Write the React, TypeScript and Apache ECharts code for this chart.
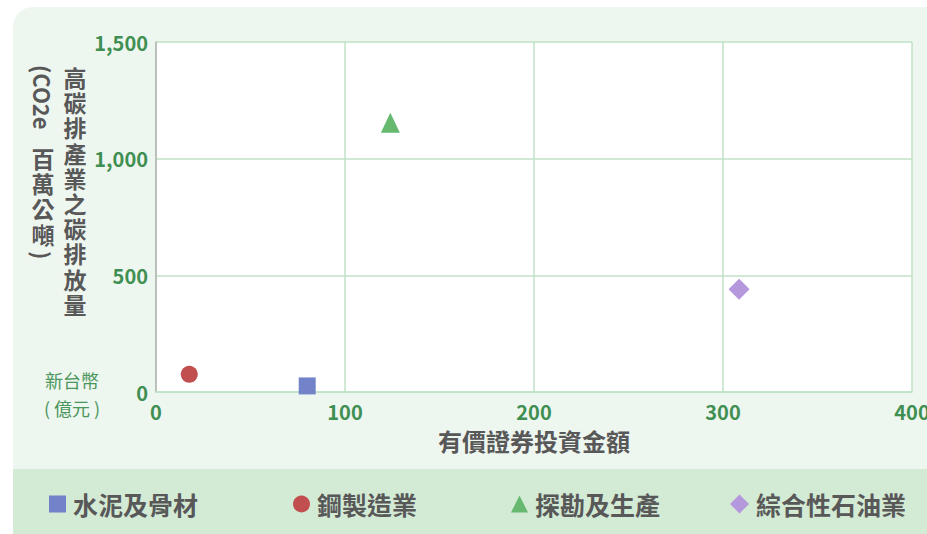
import React, { useEffect, useRef } from "react";
import * as echarts from "echarts";

const seriesNames = ["水泥及骨材", "鋼製造業", "探勘及生產", "綜合性石油業"];
const investX = [80, 17.6, 124, 308.5];
const emissionY = [26, 76, 1154, 440];
const symbols = ["rect", "circle", "triangle", "diamond"];
const colors = ["#7383c9", "#c24f4f", "#66b96f", "#b597de"];
const xAxisTitle = "有價證券投資金額";
const yAxisTitle = "高碳排產業之碳排放量";
const yUnitLatin = "(CO2e";
const yUnitCjk = "百萬公噸";
const currencyNote = ["新台幣", "( 億元 )"];

const FONT = "'Noto Sans CJK TC', 'Noto Sans', sans-serif";
const GREEN = "#3f8f52";
const GRAY = "#585858";
const GRID_LINE = "#bfe2c6";

function stackedChars(text: string, x: number, y0: number, pitch: number) {
  return text.split("").map((ch, i) => ({
    type: "text",
    x,
    y: y0 + i * pitch,
    style: {
      text: ch,
      font: `bold 23px ${FONT}`,
      fill: GRAY,
      textAlign: "center",
      textVerticalAlign: "middle",
    },
  }));
}

export default function App() {
  const ref = useRef<HTMLDivElement>(null);
  useEffect(() => {
    if (!ref.current) return;
    const chart = echarts.init(ref.current, undefined, { renderer: "svg" });
    const symbolSizes: any[] = [17, 17, [19, 20], [21, 21]];
    const legendLeft = [49, 293, 511, 730];
    const option: any = {
      animation: false,
      textStyle: { fontFamily: FONT },
      graphic: [
        {
          type: "rect",
          z: -10,
          shape: { x: 13, y: 7, width: 940, height: 540, r: [20, 0, 0, 0] },
          style: { fill: "#eef6f0" },
        },
        {
          type: "rect",
          z: -9,
          shape: { x: 13, y: 469, width: 940, height: 70 },
          style: { fill: "#d3ead5" },
        },
        ...stackedChars(yAxisTitle, 75, 77, 25.2),
        {
          type: "text",
          x: 43,
          y: 65,
          rotation: -Math.PI / 2,
          style: {
            text: yUnitLatin,
            font: `bold 22px ${FONT}`,
            fill: GRAY,
            textAlign: "left",
            textVerticalAlign: "middle",
          },
        },
        ...stackedChars(yUnitCjk, 43, 158, 25.2),
        {
          type: "text",
          x: 43,
          y: 251,
          rotation: -Math.PI / 2,
          style: {
            text: ")",
            font: `bold 22px ${FONT}`,
            fill: GRAY,
            textAlign: "left",
            textVerticalAlign: "middle",
          },
        },
        {
          type: "text",
          x: 72,
          y: 380,
          style: {
            text: currencyNote[0],
            font: `18px ${FONT}`,
            fill: "#4a965c",
            textAlign: "center",
            textVerticalAlign: "middle",
          },
        },
        {
          type: "text",
          x: 72,
          y: 408,
          style: {
            text: currencyNote[1],
            font: `18px ${FONT}`,
            fill: "#4a965c",
            textAlign: "center",
            textVerticalAlign: "middle",
          },
        },
      ],
      grid: {
        left: 156,
        top: 42,
        right: 15,
        bottom: 142,
        show: true,
        backgroundColor: "#ffffff",
        borderWidth: 0,
        outerBoundsMode: "none",
        containLabel: false,
      },
      xAxis: {
        type: "value",
        min: 0,
        max: 400,
        interval: 100,
        name: xAxisTitle,
        nameLocation: "middle",
        nameGap: 36,
        nameTextStyle: { color: GRAY, fontSize: 24, fontWeight: "bold", fontFamily: FONT },
        axisLine: { show: true, lineStyle: { color: GRID_LINE, width: 1.5 } },
        axisTick: { show: false },
        axisLabel: { color: GREEN, fontSize: 20, fontWeight: "bold", margin: 9, fontFamily: FONT },
        splitLine: { show: true, lineStyle: { color: GRID_LINE, width: 1.5 } },
      },
      yAxis: {
        type: "value",
        min: 0,
        max: 1500,
        interval: 500,
        axisLine: { show: true, lineStyle: { color: "#b4b4b4", width: 1.5 } },
        axisTick: { show: false },
        axisLabel: { color: GREEN, fontSize: 20, fontWeight: "bold", margin: 8, fontFamily: FONT },
        splitLine: { show: true, lineStyle: { color: GRID_LINE, width: 1.5 } },
      },
      legend: seriesNames.map((n, i) => ({
        data: [{ name: n, icon: symbols[i] }],
        left: legendLeft[i],
        top: 491,
        padding: 0,
        itemWidth: i === 3 ? 19 : 17,
        itemHeight: i === 3 ? 19 : 17,
        selectedMode: false,
        textStyle: {
          color: GRAY,
          fontSize: 25,
          fontWeight: "bold",
          fontFamily: FONT,
          padding: [0, 0, 0, 2],
          lineHeight: 26,
        },
      })),
      series: seriesNames.map((n, i) => ({
        type: "scatter",
        name: n,
        symbol: symbols[i],
        symbolSize: symbolSizes[i],
        itemStyle: { color: colors[i], opacity: 1 },
        data: [[investX[i], emissionY[i]]],
        z: 5,
      })),
    };
    chart.setOption(option);
    return () => chart.dispose();
  }, []);
  return (
    <div
      ref={ref}
      style={{ position: "fixed", left: 0, top: 0, width: 927, height: 534, background: "#ffffff" }}
    />
  );
}
